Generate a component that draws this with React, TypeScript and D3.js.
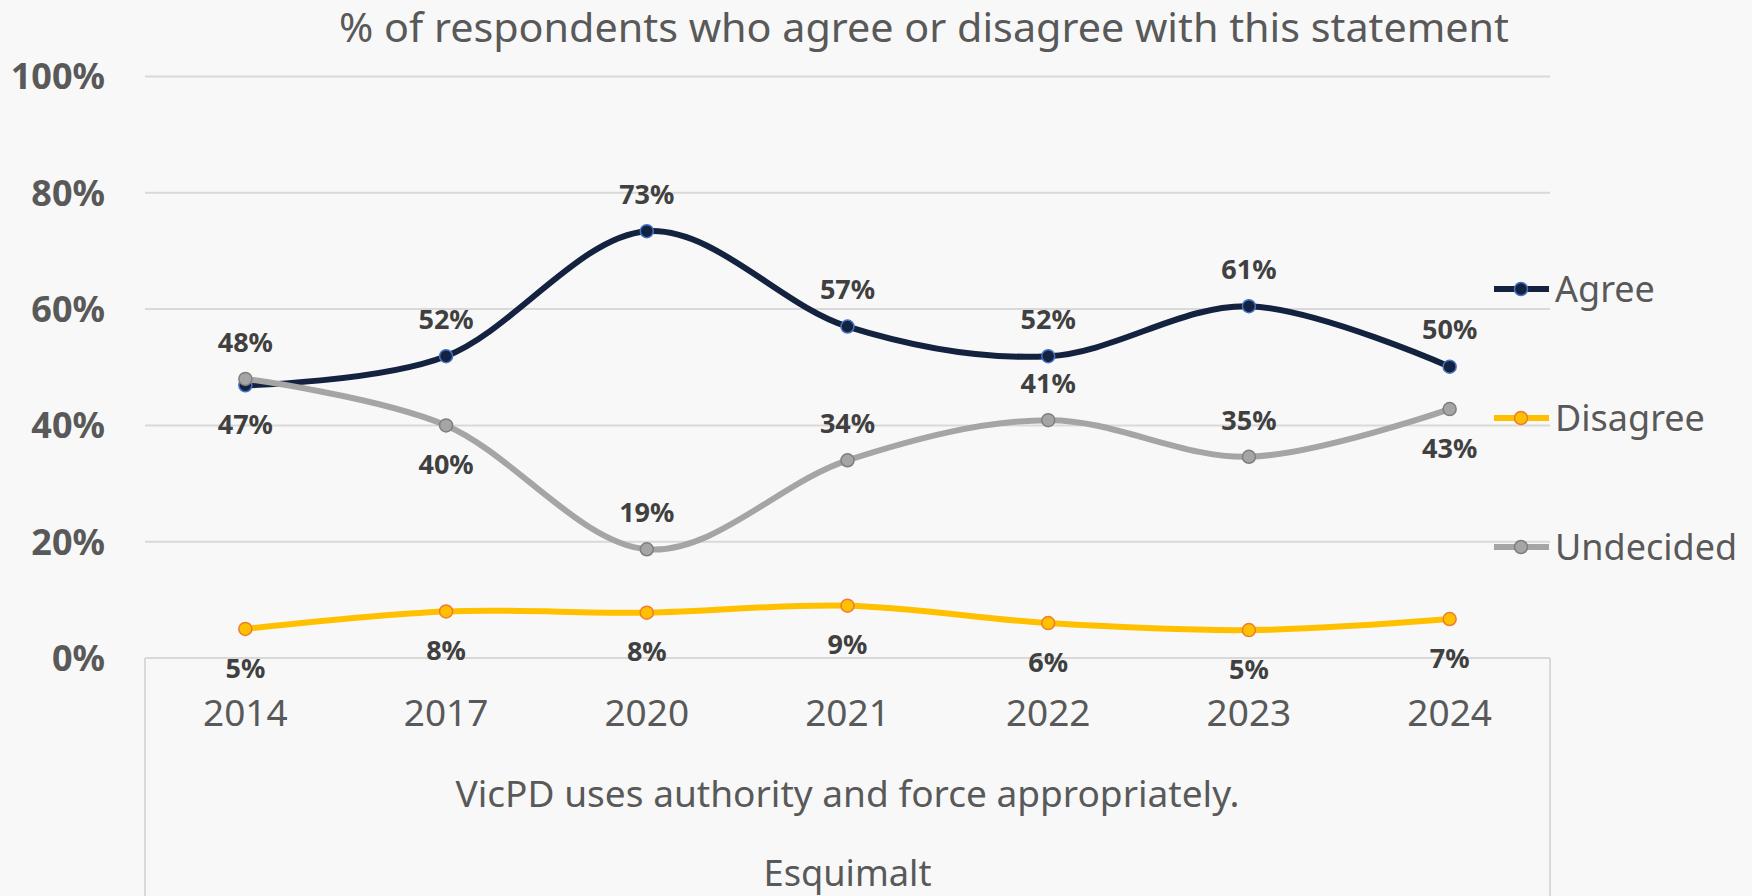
import React from "react";
import * as d3 from "d3";

const years = ["2014", "2017", "2020", "2021", "2022", "2023", "2024"];
const agree = [46.9, 51.9, 73.4, 57.0, 51.9, 60.5, 50.1];
const disagree = [5.0, 8.0, 7.8, 9.0, 6.0, 4.8, 6.7];
const undecided = [48.0, 40.0, 18.7, 34.0, 40.9, 34.6, 42.8];
const agreeLabelPos = ["b", "t", "t", "t", "t", "t", "t"];
const disagreeLabelPos = ["b", "b", "b", "b", "b", "b", "b"];
const undecidedLabelPos = ["t", "b", "t", "t", "t", "t", "b"];
const yTicks = [0, 20, 40, 60, 80, 100];
const title = "% of respondents who agree or disagree with this statement";
const axisTitle = "VicPD uses authority and force appropriately.";
const subTitle = "Esquimalt";

const W = 1752;
const H = 896;
const left = 145;
const right = 1550;
const top = 76.5;
const bottom = 658;

const series = [
  { name: "Agree", values: agree, pos: agreeLabelPos, line: "#13223f", fill: "#13223f", stroke: "#4472c4", legendY: 289 },
  { name: "Disagree", values: disagree, pos: disagreeLabelPos, line: "#ffc000", fill: "#ffc000", stroke: "#ed7d31", legendY: 418 },
  { name: "Undecided", values: undecided, pos: undecidedLabelPos, line: "#a5a5a5", fill: "#a5a5a5", stroke: "#7f7f7f", legendY: 547 },
];

const drawOrder = [series[1], series[0], series[2]];

export default function App() {
  const x = d3.scaleBand<string>().domain(years).range([left, right]);
  const y = d3.scaleLinear().domain([0, 100]).range([bottom, top]);
  const cx = (i: number) => (x(years[i]) as number) + x.bandwidth() / 2;
  const line = d3
    .line<number>()
    .x((_, i) => cx(i))
    .y((d) => y(d))
    .curve(d3.curveCardinal.tension(0));
  const font = "'Noto Sans', sans-serif";
  const plotCenter = (left + right) / 2;

  return (
    <svg width={W} height={H} style={{ display: "block", position: "absolute", left: 0, top: 0 }}>
      <rect x={0} y={0} width={W} height={H} fill="#f8f8f8" />
      <text x={924} y={41.5} textAnchor="middle" fontFamily={font} fontSize={40} fill="#595959" textLength={1170} lengthAdjust="spacingAndGlyphs">
        {title}
      </text>
      {yTicks.map((t) => (
        <g key={t}>
          <line x1={left} x2={right} y1={y(t)} y2={y(t)} stroke="#d9d9d9" strokeWidth={2} />
          <text x={105} y={y(t)} dy="0.36em" textAnchor="end" fontFamily={font} fontWeight="bold" fontSize={36} fill="#595959">
            {t}%
          </text>
        </g>
      ))}
      <line x1={left} x2={left} y1={bottom} y2={H} stroke="#d9d9d9" strokeWidth={2} />
      <line x1={right} x2={right} y1={bottom} y2={H} stroke="#d9d9d9" strokeWidth={2} />
      {years.map((yr, i) => (
        <text key={yr} x={cx(i)} y={713} dy="0.36em" textAnchor="middle" fontFamily={font} fontSize={37} fill="#595959">
          {yr}
        </text>
      ))}
      <text x={plotCenter} y={807} textAnchor="middle" fontFamily={font} fontSize={36} fill="#595959" textLength={784} lengthAdjust="spacingAndGlyphs">
        {axisTitle}
      </text>
      <text x={plotCenter} y={886} textAnchor="middle" fontFamily={font} fontSize={36} fill="#595959" textLength={168} lengthAdjust="spacingAndGlyphs">
        {subTitle}
      </text>
      {drawOrder.map((s) => (
        <g key={s.name}>
          <path d={line(s.values) as string} fill="none" stroke={s.line} strokeWidth={6} strokeLinecap="round" />
          {s.values.map((v, i) => (
            <circle key={i} cx={cx(i)} cy={y(v)} r={6.5} fill={s.fill} stroke={s.stroke} strokeWidth={1.5} />
          ))}
        </g>
      ))}
      {series.map((s) =>
        s.values.map((v, i) => (
          <text
            key={s.name + i}
            x={cx(i)}
            y={y(v) + (s.pos[i] === "t" ? -37 : 39)}
            dy="0.36em"
            textAnchor="middle"
            fontFamily={font}
            fontWeight="bold"
            fontSize={27}
            fill="#404040"
          >
            {Math.round(v)}%
          </text>
        ))
      )}
      {series.map((s) => (
        <g key={"lg" + s.name}>
          <line x1={1494} x2={1549} y1={s.legendY} y2={s.legendY} stroke={s.line} strokeWidth={6} />
          <circle cx={1521} cy={s.legendY} r={6.5} fill={s.fill} stroke={s.stroke} strokeWidth={1.5} />
          <text x={1555} y={s.legendY} dy="0.36em" fontFamily={font} fontSize={36} fill="#595959">
            {s.name}
          </text>
        </g>
      ))}
    </svg>
  );
}
